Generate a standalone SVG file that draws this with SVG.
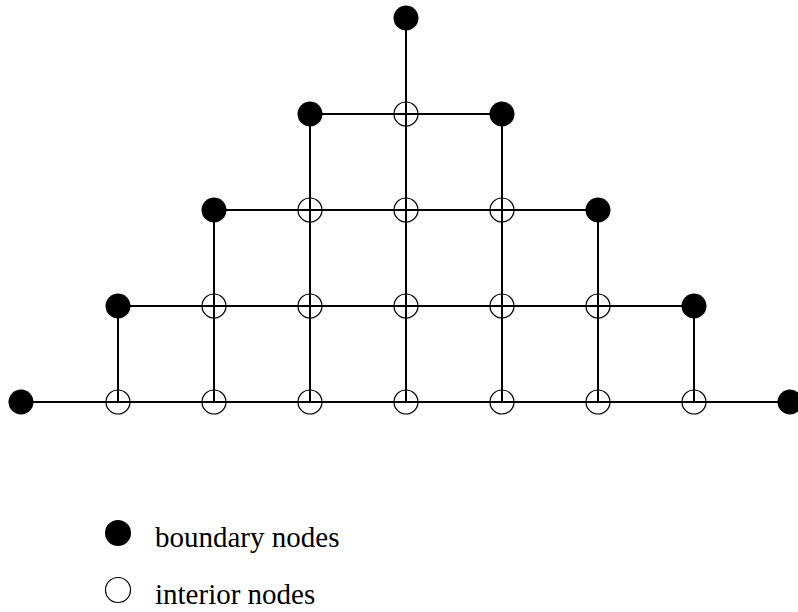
<svg xmlns="http://www.w3.org/2000/svg" width="798" height="612" viewBox="0 0 798 612">
<style>
.e{stroke:#000;stroke-width:2;fill:none}
.b{fill:#000;stroke:none}
.i{fill:none;stroke:#000;stroke-width:1.2}
text{font-family:"Liberation Serif","Times New Roman",serif;font-size:29px;fill:#000}
</style>
<rect width="798" height="612" fill="#fff"/>
<g id="edges">
<path class="e" d="M310 114H502M214 210H598M118 306H694M21 402H790"/>
<path class="e" d="M406 18V402M310 114V402M502 114V402M214 210V402M598 210V402M118 306V402M694 306V402"/>
</g>
<g id="boundary-nodes">
<circle id="b1" class="b" cx="406" cy="18" r="12.5"/>
<circle id="b2" class="b" cx="310" cy="114" r="12.5"/>
<circle id="b3" class="b" cx="502" cy="114" r="12.5"/>
<circle id="b4" class="b" cx="214" cy="210" r="12.5"/>
<circle id="b5" class="b" cx="598" cy="210" r="12.5"/>
<circle id="b6" class="b" cx="118" cy="306" r="12.5"/>
<circle id="b7" class="b" cx="694" cy="306" r="12.5"/>
<circle id="b8" class="b" cx="21" cy="402" r="12.5"/>
<circle id="b9" class="b" cx="790" cy="402" r="12.5"/>
</g>
<g id="interior-nodes">
<circle id="i1" class="i" cx="406" cy="114" r="12"/>
<circle id="i2" class="i" cx="310" cy="210" r="12"/>
<circle id="i3" class="i" cx="406" cy="210" r="12"/>
<circle id="i4" class="i" cx="502" cy="210" r="12"/>
<circle id="i5" class="i" cx="214" cy="306" r="12"/>
<circle id="i6" class="i" cx="310" cy="306" r="12"/>
<circle id="i7" class="i" cx="406" cy="306" r="12"/>
<circle id="i8" class="i" cx="502" cy="306" r="12"/>
<circle id="i9" class="i" cx="598" cy="306" r="12"/>
<circle id="i10" class="i" cx="118" cy="402" r="12"/>
<circle id="i11" class="i" cx="214" cy="402" r="12"/>
<circle id="i12" class="i" cx="310" cy="402" r="12"/>
<circle id="i13" class="i" cx="406" cy="402" r="12"/>
<circle id="i14" class="i" cx="502" cy="402" r="12"/>
<circle id="i15" class="i" cx="598" cy="402" r="12"/>
<circle id="i16" class="i" cx="694" cy="402" r="12"/>
</g>
<g id="legend">
<circle class="b" cx="118" cy="533" r="13"/>
<text x="155" y="547">boundary nodes</text>
<circle class="i" cx="118" cy="590" r="12.5"/>
<text x="155" y="604">interior nodes</text>
</g>
</svg>
